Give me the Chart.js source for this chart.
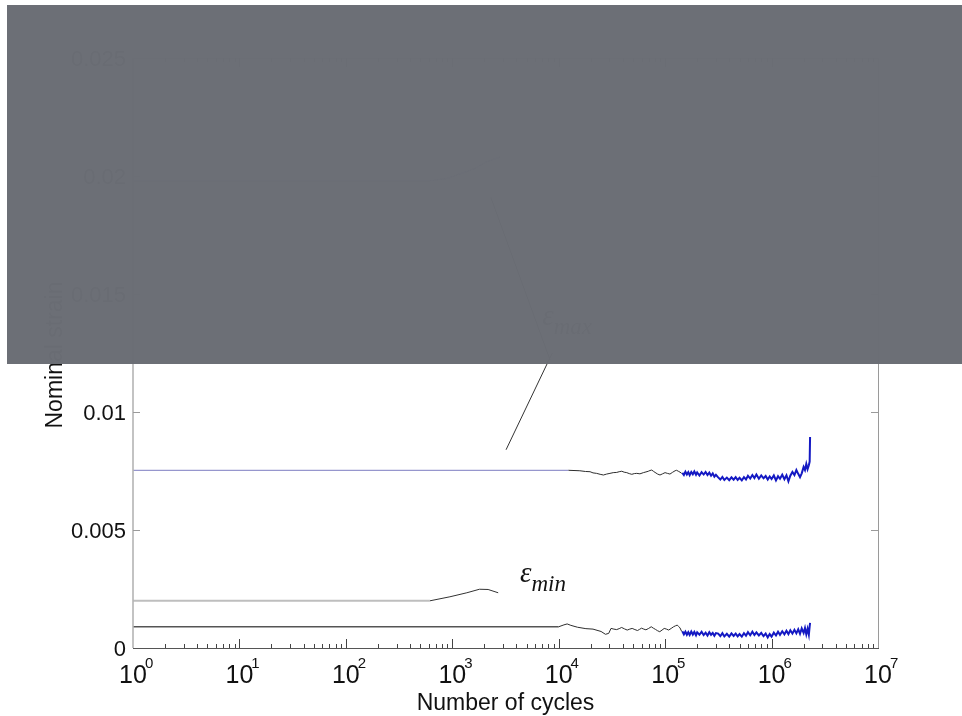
<!DOCTYPE html>
<html>
<head>
<meta charset="utf-8">
<script src="https://cdn.jsdelivr.net/npm/chart.js@4.4.1/dist/chart.umd.min.js"></script>
<style>
  html, body { margin: 0; padding: 0; background: #ffffff; }
  #wrap { width: 962px; height: 716px; position: relative; }
</style>
</head>
<body>
<div id="wrap"><canvas id="c" width="962" height="716"></canvas></div>
<script>
// ---------------- DATA ----------------
const xTickExponents = [0, 1, 2, 3, 4, 5, 6, 7];
const xMinorMultipliers = [2, 3, 4, 5, 6, 7, 8, 9];
const yTickValues = [0, 0.005, 0.01, 0.015, 0.02, 0.025];
const yTickLabels = ['0', '0.005', '0.01', '0.015', '0.02', '0.025'];
const xAxisTitle = 'Number of cycles';
const yAxisTitle = 'Nominal strain';

// epsilon_max curve (hidden behind the grey box)
const maxCycles = [1, 620, 900, 1200, 1600, 2100, 2800];
const maxStrain = [0.0198, 0.0198, 0.0199, 0.0201, 0.0203, 0.0206, 0.0208];

// upper curve (~0.0075)
const upperFlatCycles = [1, 12300];
const upperFlatStrain = [0.00753, 0.00753];
const upperNoiseCycles = [12300, 15800, 17800, 19700, 21000, 22700, 24500, 26300, 28200, 30300, 32500, 35100, 37000, 39100, 41200, 43600, 46000, 48600, 51300, 54100, 58000, 62400, 66000, 69500, 72000, 74800, 77500, 80400, 85000, 89500, 94500, 99800, 105000, 111000, 117000, 124000, 128000, 133000, 138000, 143000];
const upperNoiseStrain = [0.00753, 0.00751, 0.00748, 0.00747, 0.00742, 0.00740, 0.00736, 0.00733, 0.00737, 0.00740, 0.00743, 0.00744, 0.00747, 0.00749, 0.00745, 0.00743, 0.00739, 0.00736, 0.00739, 0.00740, 0.00738, 0.00743, 0.00746, 0.00749, 0.00752, 0.00754, 0.00749, 0.00744, 0.00737, 0.00733, 0.00738, 0.00743, 0.00740, 0.00737, 0.00744, 0.00751, 0.00753, 0.00749, 0.00745, 0.00740];

// middle curve (~0.002)
const midFlatCycles = [1, 617];
const midFlatStrain = [0.00200, 0.00200];
const midRiseCycles = [617, 950, 1370, 1800, 2170, 2700];
const midRiseStrain = [0.00200, 0.00217, 0.00234, 0.00249, 0.00248, 0.00234];

// lower curve (~0.0009)
const lowerFlatCycles = [1, 10000];
const lowerFlatStrain = [0.00090, 0.00090];
const lowerNoiseCycles = [10000, 11200, 12000, 13000, 15000, 18000, 21000, 25000, 27500, 29500, 31000, 33000, 35000, 37000, 39000, 41500, 44000, 46500, 49000, 52000, 55000, 57500, 60000, 63000, 66000, 70000, 74000, 77500, 81000, 85000, 89000, 93500, 98000, 103000, 108000, 114000, 120000, 125000, 130000, 134000, 138000, 143000];
const lowerNoiseStrain = [0.00090, 0.00098, 0.00102, 0.00096, 0.00088, 0.00082, 0.00080, 0.00070, 0.00058, 0.00062, 0.00083, 0.00080, 0.00078, 0.00082, 0.00087, 0.00081, 0.00076, 0.00080, 0.00083, 0.00078, 0.00074, 0.00079, 0.00084, 0.00080, 0.00077, 0.00083, 0.00090, 0.00084, 0.00079, 0.00073, 0.00069, 0.00076, 0.00083, 0.00080, 0.00076, 0.00083, 0.00090, 0.00094, 0.00097, 0.00091, 0.00085, 0.00070];

// dense (blue) part, shared cycle values
const blueCycles = [145000, 150000, 155000, 160000, 165000, 170000, 176000, 182000, 188000, 195000, 200000, 210000, 220000, 230000, 240000, 250000, 260000, 270000, 280000, 290000, 300000,
  315000, 330000, 345000, 360000, 380000, 400000, 420000, 440000, 460000, 480000, 500000, 525000, 550000, 575000,
  600000, 630000, 660000, 690000, 720000, 760000, 800000, 840000, 880000, 920000,
  960000, 1000000, 1050000, 1100000, 1150000, 1200000, 1260000, 1320000, 1380000, 1440000, 1500000,
  1570000, 1640000, 1710000, 1780000,
  1850000, 1920000,
  2000000, 2060000, 2120000, 2180000, 2240000,
  2280000, 2300000];
const upperBlueStrain = [0.00742, 0.00733, 0.00747, 0.00735, 0.00745, 0.00732, 0.00746, 0.00736, 0.00748, 0.00734, 0.00744, 0.00731, 0.00745, 0.00735, 0.00746, 0.00733, 0.00743, 0.00730, 0.00740, 0.00726, 0.00734,
  0.00723, 0.00714, 0.00725, 0.00712, 0.00722, 0.00711, 0.00723, 0.00713, 0.00724, 0.00712, 0.00721, 0.00710, 0.00724, 0.00714,
  0.00730, 0.00718, 0.00733, 0.00720, 0.00735, 0.00717, 0.00731, 0.00719, 0.00729, 0.00714,
  0.00727, 0.00716, 0.00731, 0.00710, 0.00728, 0.00717, 0.00734, 0.00715, 0.00732, 0.00706, 0.00730,
  0.00746, 0.00733, 0.00754, 0.00738,
  0.00724, 0.00740,
  0.00767, 0.00754, 0.00780, 0.00758, 0.00774,
  0.00790, 0.00894];
const lowerBlueStrain = [0.00071, 0.00058, 0.00069, 0.00056, 0.00067, 0.00055, 0.00070, 0.00057, 0.00068, 0.00054, 0.00066, 0.00056, 0.00069, 0.00055, 0.00065, 0.00053, 0.00067, 0.00056, 0.00064, 0.00052, 0.00063,
  0.00061, 0.00050, 0.00063, 0.00049, 0.00060, 0.00048, 0.00062, 0.00051, 0.00061, 0.00049, 0.00059, 0.00048, 0.00063, 0.00052,
  0.00067, 0.00054, 0.00069, 0.00055, 0.00066, 0.00053, 0.00064, 0.00050, 0.00061, 0.00045,
  0.00059, 0.00048, 0.00065, 0.00053, 0.00069, 0.00056, 0.00071, 0.00058, 0.00073, 0.00059, 0.00075,
  0.00061, 0.00077, 0.00062, 0.00079,
  0.00060, 0.00083,
  0.00064, 0.00085, 0.00058, 0.00081, 0.00056,
  0.00092, 0.00106];

// annotations (data coordinates)
const annoMaxPointer = [[3200, 0.0084], [8700, 0.0125]];
const annoMaxPointer2 = [[2300, 0.0191], [8300, 0.0122]];
const annoMaxLabel = [7000, 0.0137];
const annoMinLabel = [4330, 0.0028];

// ---------------- CHART ----------------
function pts(xs, ys) { return xs.map((x, i) => ({ x: x, y: ys[i] })); }
function ds(xs, ys, color, w) {
  return { data: pts(xs, ys), borderColor: color, borderWidth: w, pointRadius: 0, fill: false, tension: 0 };
}

const SANS = '"Liberation Sans", Arial, Helvetica, sans-serif';
const SERIF = '"Liberation Serif", "Times New Roman", serif';

const overlayPlugin = {
  id: 'matlabLook',
  afterDraw(chart) {
    const ctx = chart.ctx, xs = chart.scales.x, ys = chart.scales.y, a = chart.chartArea;
    ctx.save();
    // box
    ctx.lineWidth = 1;
    ctx.strokeStyle = '#9a9a9a';
    ctx.beginPath(); ctx.moveTo(a.right + 0.5, a.top); ctx.lineTo(a.right + 0.5, a.bottom); ctx.stroke();
    ctx.beginPath(); ctx.moveTo(a.left, a.top + 0.5); ctx.lineTo(a.right, a.top + 0.5); ctx.stroke();
    ctx.lineWidth = 1.6;
    ctx.strokeStyle = '#b4b4b4';
    ctx.beginPath(); ctx.moveTo(a.left, a.top); ctx.lineTo(a.left, a.bottom); ctx.stroke();
    ctx.lineWidth = 1;
    ctx.strokeStyle = '#555555';
    ctx.beginPath(); ctx.moveTo(a.left, a.bottom + 0.5); ctx.lineTo(a.right + 1, a.bottom + 0.5); ctx.stroke();

    // y ticks (inward) + labels
    ctx.strokeStyle = '#9a9a9a';
    ctx.lineWidth = 1;
    ctx.fillStyle = '#111111';
    ctx.font = '22px ' + SANS;
    ctx.textAlign = 'right';
    ctx.textBaseline = 'middle';
    yTickValues.forEach((v, i) => {
      const y = Math.round(ys.getPixelForValue(v)) + 0.5;
      if (i > 0 && i < yTickValues.length - 1) {
        ctx.beginPath(); ctx.moveTo(a.left, y); ctx.lineTo(a.left + 7, y); ctx.stroke();
        ctx.beginPath(); ctx.moveTo(a.right, y); ctx.lineTo(a.right - 7, y); ctx.stroke();
      }
      ctx.fillText(yTickLabels[i], a.left - 7, y + 1);
    });

    // x ticks (inward)
    ctx.strokeStyle = '#444444';
    ctx.lineWidth = 1;
    xTickExponents.forEach((e, i) => {
      const base = Math.pow(10, e);
      const x = Math.round(xs.getPixelForValue(base)) + 0.5;
      if (i > 0 && i < xTickExponents.length - 1) {
        ctx.beginPath(); ctx.moveTo(x, a.bottom); ctx.lineTo(x, a.bottom - 9); ctx.stroke();
        ctx.beginPath(); ctx.moveTo(x, a.top); ctx.lineTo(x, a.top + 9); ctx.stroke();
      }
      if (i < xTickExponents.length - 1) {
        xMinorMultipliers.forEach(m => {
          const xm = Math.round(xs.getPixelForValue(base * m)) + 0.5;
          ctx.beginPath(); ctx.moveTo(xm, a.bottom); ctx.lineTo(xm, a.bottom - 4); ctx.stroke();
          ctx.beginPath(); ctx.moveTo(xm, a.top); ctx.lineTo(xm, a.top + 4); ctx.stroke();
        });
      }
    });
    // x labels 10^n
    ctx.textBaseline = 'alphabetic';
    xTickExponents.forEach(e => {
      const x = xs.getPixelForValue(Math.pow(10, e));
      ctx.font = '25px ' + SANS;
      ctx.textAlign = 'center';
      ctx.fillText('10', x, a.bottom + 35);
      const hw = ctx.measureText('10').width / 2;
      ctx.font = '15px ' + SANS;
      ctx.textAlign = 'left';
      ctx.fillText(String(e), x + hw - 2, a.bottom + 20);
    });

    // axis titles
    ctx.font = '23px ' + SANS;
    ctx.textAlign = 'center';
    ctx.fillText(xAxisTitle, (a.left + a.right) / 2, a.bottom + 62);
    ctx.save();
    ctx.translate(62, (a.top + a.bottom) / 2 + 2);
    ctx.rotate(-Math.PI / 2);
    ctx.fillText(yAxisTitle, 0, 0);
    ctx.restore();

    // annotations
    ctx.strokeStyle = '#333333';
    ctx.lineWidth = 1;
    [annoMaxPointer, annoMaxPointer2].forEach(seg => {
      ctx.beginPath();
      ctx.moveTo(xs.getPixelForValue(seg[0][0]), ys.getPixelForValue(seg[0][1]));
      ctx.lineTo(xs.getPixelForValue(seg[1][0]), ys.getPixelForValue(seg[1][1]));
      ctx.stroke();
    });
    function epsLabel(pos, sub) {
      const x = xs.getPixelForValue(pos[0]), y = ys.getPixelForValue(pos[1]);
      ctx.textAlign = 'left';
      ctx.fillStyle = '#111111';
      ctx.font = 'italic 29px ' + SERIF;
      ctx.fillText('\u03B5', x, y);
      const w = ctx.measureText('\u03B5').width;
      ctx.font = 'italic 23px ' + SERIF;
      ctx.fillText(sub, x + w, y + 9);
    }
    epsLabel(annoMaxLabel, 'max');
    epsLabel(annoMinLabel, 'min');

    // grey box covering the upper part of the figure
    ctx.fillStyle = 'rgba(106,109,116,0.99)';
    ctx.fillRect(7, 5, 955, 359);
    ctx.restore();
  }
};

new Chart(document.getElementById('c'), {
  type: 'line',
  data: {
    datasets: [
      ds(maxCycles, maxStrain, 'rgb(140,140,205)', 1.2),
      ds(upperFlatCycles, upperFlatStrain, 'rgb(150,150,205)', 1.3),
      ds(upperNoiseCycles, upperNoiseStrain, 'rgb(45,45,45)', 1),
      ds(blueCycles, upperBlueStrain, 'rgb(20,25,195)', 2),
      ds(midFlatCycles, midFlatStrain, 'rgb(190,190,190)', 2),
      ds(midRiseCycles, midRiseStrain, 'rgb(50,50,50)', 1),
      ds(lowerFlatCycles, lowerFlatStrain, 'rgb(85,85,85)', 1.5),
      ds(lowerNoiseCycles, lowerNoiseStrain, 'rgb(45,45,45)', 1),
      ds(blueCycles, lowerBlueStrain, 'rgb(20,25,195)', 2)
    ]
  },
  options: {
    responsive: false,
    animation: false,
    events: [],
    layout: { padding: { top: 58, right: 84, left: 0, bottom: 0 } },
    plugins: { legend: { display: false }, tooltip: { enabled: false } },
    scales: {
      x: {
        type: 'logarithmic', min: 1, max: 1e7,
        grid: { display: false }, border: { display: false },
        ticks: { display: false },
        afterFit(s) { s.height = 68; }
      },
      y: {
        type: 'linear', min: 0, max: 0.025,
        grid: { display: false }, border: { display: false },
        ticks: { display: false, stepSize: 0.005 },
        afterFit(s) { s.width = 133; }
      }
    }
  },
  plugins: [overlayPlugin]
});
</script>
</body>
</html>
